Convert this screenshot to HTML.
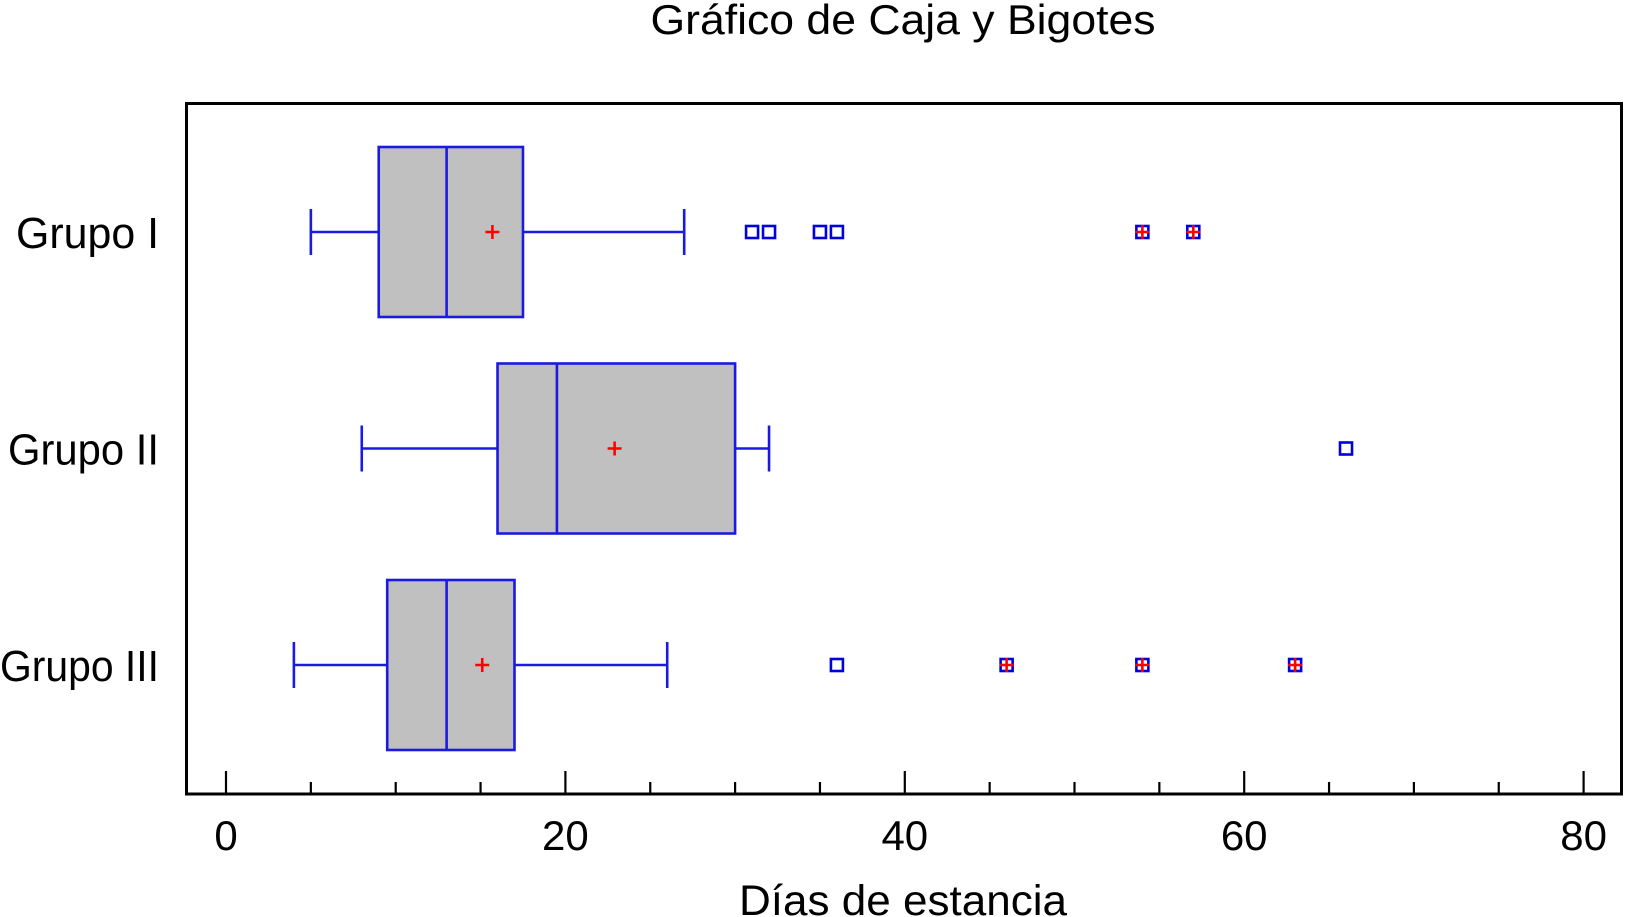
<!DOCTYPE html>
<html><head><meta charset="utf-8"><style>
html,body{margin:0;padding:0;background:#fff;}
svg{display:block;font-family:"Liberation Sans",Arial,sans-serif;}
</style></head><body>
<svg id="chart" width="1625" height="917" viewBox="0 0 1625 917">
<text x="903" y="34" font-size="42" text-anchor="middle" textLength="505" lengthAdjust="spacingAndGlyphs">Gráfico de Caja y Bigotes</text>
<rect x="186.5" y="103.5" width="1435" height="690.5" fill="none" stroke="#000" stroke-width="3"/>
<g id="marks"></g>
<g id="axis"></g>
<text x="903" y="915" font-size="43" text-anchor="middle" textLength="328" lengthAdjust="spacingAndGlyphs">Días de estancia</text>
</svg>
<script>
const groups = ["Grupo I","Grupo II","Grupo III"];
const lowWhisker = [5, 8, 4];
const q1 = [9, 16, 9.5];
const median = [13, 19.5, 13];
const q3 = [17.5, 30, 17];
const highWhisker = [27, 32, 26];
const means = [15.7, 22.9, 15.1];
const outliers = [[31,32,35,36,54,57],[66],[36,46,54,63]];
const farOutliers = [[54,57],[],[46,54,63]];
const xTicks = [0,20,40,60,80];
const xMinorStep = 5;

const NS="http://www.w3.org/2000/svg";
const X0=226, XK=(1583.6-226)/80;
const x=v=>X0+v*XK;
const rowY=i=>232+i*216.5;
const HH=85, CAP=23, BLUE="#1a1ae0";
const labelLen=[143,151,159];
const marks=document.getElementById('marks'), axis=document.getElementById('axis');
function mk(tag,attrs,parent){const e=document.createElementNS(NS,tag);for(const k in attrs)e.setAttribute(k,attrs[k]);parent.appendChild(e);return e;}

groups.forEach((g,i)=>{
  const y=rowY(i);
  const grp=mk('g',{},marks);
  
  
  const lbl=mk('text',{x:159,y:y+16,'font-size':44,'text-anchor':'end',textLength:labelLen[i],lengthAdjust:'spacingAndGlyphs'},axis);
  lbl.textContent=g;
  
  
  const st={stroke:BLUE,'stroke-width':2.6,fill:'none'};
  const w1=mk('line',Object.assign({x1:x(lowWhisker[i]),x2:x(q1[i]),y1:y,y2:y},st),grp);
  
  
  mk('line',Object.assign({x1:x(lowWhisker[i]),x2:x(lowWhisker[i]),y1:y-CAP,y2:y+CAP},st),grp);
  const w2=mk('line',Object.assign({x1:x(q3[i]),x2:x(highWhisker[i]),y1:y,y2:y},st),grp);
  
  
  mk('line',Object.assign({x1:x(highWhisker[i]),x2:x(highWhisker[i]),y1:y-CAP,y2:y+CAP},st),grp);
  const b=mk('rect',{x:x(q1[i]),y:y-HH,width:x(q3[i])-x(q1[i]),height:2*HH,fill:'#c0c0c0',stroke:BLUE,'stroke-width':2.6},grp);
  
  
  const m=mk('line',Object.assign({x1:x(median[i]),x2:x(median[i]),y1:y-HH,y2:y+HH},st),grp);
  
  
  const mp=mk('path',{d:`M${x(means[i])-7},${y}h14M${x(means[i])},${y-7}v14`,stroke:'#f00','stroke-width':2.6},grp);
  
  
  outliers[i].forEach(v=>{
    const r=mk('rect',{x:x(v)-6,y:y-6,width:12,height:12,fill:'none',stroke:'#0000dd','stroke-width':2.6},grp);
    
    
  });
  farOutliers[i].forEach(v=>{
    const p=mk('path',{d:`M${x(v)-7},${y}h14M${x(v)},${y-7}v14`,stroke:'#f00','stroke-width':2.6},grp);
    
    
  });
});

const base=794;
for(let v=0;v<=80;v+=xMinorStep){
  const major=xTicks.includes(v);
  const t=mk('line',{x1:x(v),x2:x(v),y1:base,y2:base-(major?23:12),stroke:'#000','stroke-width':2.2},axis);
  
  
}
xTicks.forEach(v=>{
  const t=mk('text',{x:x(v),y:850,'font-size':42,'text-anchor':'middle'},axis);
  t.textContent=v;
  
  
});
</script>
</body></html>
